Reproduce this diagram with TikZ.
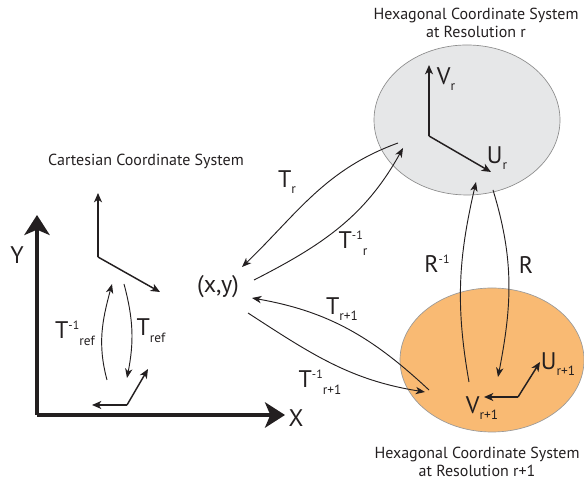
\documentclass[tikz,border=0pt]{standalone}
\usepackage{fontspec}
\setmainfont{PT Sans}
\usetikzlibrary{arrows.meta}
\definecolor{hexgray}{RGB}{230,231,232}
\definecolor{hexorange}{RGB}{249,186,115}
\definecolor{ink}{RGB}{35,31,32}
\newcommand{\lsup}[1]{\raisebox{7pt}{\fontsize{9}{9}\selectfont #1}}
\newcommand{\lsub}[1]{\raisebox{-5pt}{\fontsize{10}{10}\selectfont #1}}
\tikzset{
bigaxis/.style={draw=ink,line width=3pt,-{Stealth[length=15pt,width=19pt,inset=4pt]}},
framearrow/.style={draw=ink,line width=1.1pt,-{Stealth[length=7pt,width=6pt,inset=2pt]}},
maparrow/.style={draw=ink,line width=0.7pt,-{Stealth[length=7pt,width=5.5pt,inset=2pt]}},
biglabel/.style={font=\fontsize{18}{20}\selectfont,text=ink,inner sep=0pt},
caption/.style={font=\fontsize{12}{14}\selectfont,text=ink,align=center,inner sep=0pt},
graydisc/.style={fill=hexgray,draw=black!45,line width=0.5pt},
orangedisc/.style={fill=hexorange,draw=black!40,line width=0.5pt}
}

\begin{document}
\begin{tikzpicture}[x=0.75pt,y=0.75pt]
\useasboundingbox (0,0) rectangle (584,484);
% discs of the two hexagonal systems
\draw[graydisc] (467,364) ellipse [x radius=93, y radius=75];
\draw[orangedisc] (492,124) ellipse [x radius=92, y radius=72];

% cartesian axes
\coordinate (origin) at (37,69);
\coordinate (ytip) at (37,269);
\coordinate (xtip) at (285,69);
\draw[bigaxis] (origin) -- (ytip);
\draw[bigaxis] (origin) -- (xtip);
\node[biglabel] (ylab) at (17,229) {Y};
\node[biglabel] (xlab) at (296,66) {X};

% reference frames
\coordinate (refa) at (98,227);
\coordinate (refaup) at (98,291);
\coordinate (refadiag) at (160,192);
\draw[framearrow] (refa) -- (refaup);
\draw[framearrow] (refa) -- (refadiag);
\coordinate (refb) at (127,79);
\coordinate (refbleft) at (92,79);
\coordinate (refbdiag) at (148,115);
\draw[framearrow] (refb) -- (refbleft);
\draw[framearrow] (refb) -- (refbdiag);
\coordinate (tinvs) at (107,104);
\coordinate (tinve) at (112,200);
\coordinate (trefs) at (124,200);
\coordinate (trefe) at (127,106);
\draw[maparrow] (tinvs) to[out=105,in=255] (tinve);
\draw[maparrow] (trefs) to[out=-75,in=79] (trefe);
\node[biglabel] (tinvref) at (75,151) {T\lsup{-1}\lsub{ref}};
\node[biglabel] (tref) at (151,153) {T\lsub{ref}};
\node[caption] (cart) at (146,323) {Cartesian Coordinate System};

\node[biglabel] (xy) at (218,197) {(x,y)};

% resolution r
\coordinate (vr) at (429,348);
\coordinate (vrtip) at (429,419);
\coordinate (urtip) at (491,312);
\draw[framearrow] (vr) -- (vrtip);
\draw[framearrow] (vr) -- (urtip);
\node[biglabel] (vrlab) at (446,405) {V\lsub{r}};
\node[biglabel] (urlab) at (497,326) {U\lsub{r}};
\node[caption] (hexr) at (476,461) {Hexagonal Coordinate System\\at Resolution r};

% resolution r+1
\coordinate (vs) at (518,87);
\coordinate (vstip) at (484,87);
\coordinate (ustip) at (540,122);
\draw[framearrow] (vs) -- (vstip);
\draw[framearrow] (vs) -- (ustip);
\node[biglabel] (vslab) at (482,76) {V\lsub{r+1}};
\node[biglabel] (uslab) at (558,120) {U\lsub{r+1}};
\node[caption] (hexs) at (477,22) {Hexagonal Coordinate System\\at Resolution r+1};

% maps between systems
\coordinate (trs) at (398,341);
\coordinate (tre) at (242,217);
\coordinate (tirs) at (254,204);
\coordinate (tire) at (403,336);
\coordinate (tss) at (429,94);
\coordinate (tse) at (252,186);
\coordinate (tiss) at (248,171);
\coordinate (tise) at (425,92);
\draw[maparrow] (trs) to[out=200,in=44] (tre);
\draw[maparrow] (tirs) to[out=27,in=241] (tire);
\draw[maparrow] (tss) to[out=137,in=-10] (tse);
\draw[maparrow] (tiss) to[out=-33,in=171] (tise);
\node[biglabel] (trlab) at (287,302) {T\lsub{r}};
\node[biglabel] (tirlab) at (353,241) {T\lsup{-1}\lsub{r}};
\node[biglabel] (tslab) at (342,175) {T\lsub{r+1}};
\node[biglabel] (tislab) at (320,102) {T\lsup{-1}\lsub{r+1}};

\coordinate (rinvs) at (469,102);
\coordinate (rinve) at (476,302);
\coordinate (rs) at (493,294);
\coordinate (re) at (498,107);
\draw[maparrow] (rinvs) to[out=100,in=257] (rinve);
\draw[maparrow] (rs) to[out=-73,in=79] (re);
\node[biglabel] (rinvlab) at (437,220) {R\lsup{-1}};
\node[biglabel] (rlab) at (526,219) {R};
\end{tikzpicture}
\end{document}
